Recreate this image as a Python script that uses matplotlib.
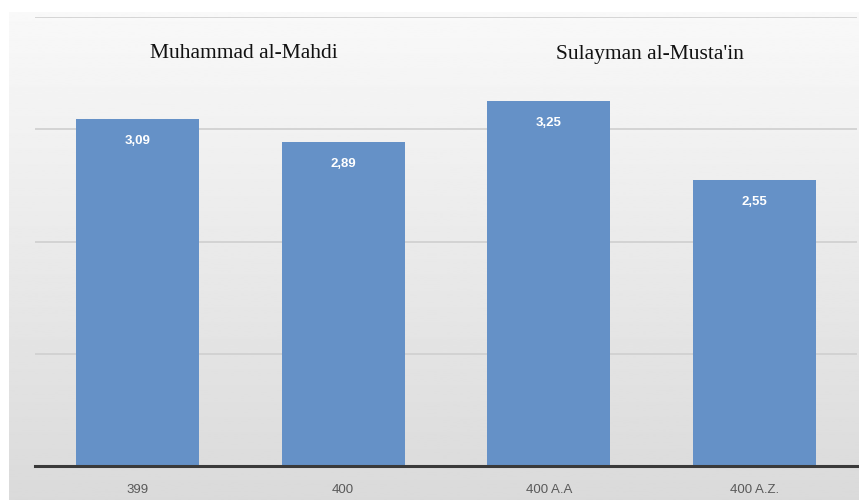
import matplotlib.pyplot as plt
import numpy as np

categories = ['399', '400', '400 A.A', '400 A.Z.']
values = [3.09, 2.89, 3.25, 2.55]
value_labels = ['3,09', '2,89', '3,25', '2,55']
rulers = ['Muhammad al-Mahdi', "Sulayman al-Musta'in"]

narrow = ['Liberation Sans Narrow', 'Liberation Sans', 'DejaVu Sans']

fig = plt.figure(figsize=(8.59, 5.0), dpi=100)

# grey gradient panel behind the chart
bg = fig.add_axes([9 / 859, 0, 850 / 859, 488 / 500])
grad = np.linspace(0.975, 0.855, 256).reshape(-1, 1)
bg.imshow(grad, aspect='auto', cmap='gray', vmin=0, vmax=1, extent=[0, 1, 0, 1])
bg.set_axis_off()

ax = fig.add_axes([35 / 859, 34 / 500, 822 / 859, 449 / 500])
ax.patch.set_alpha(0)
x = np.arange(len(categories))
ax.bar(x, values, width=0.6, color='#6591C7', zorder=3)

for xi, v, lab in zip(x, values, value_labels):
    ax.annotate(lab, (xi, v), xytext=(0, -16), textcoords='offset points',
                ha='center', va='center', color='white', fontsize=9.5,
                fontweight='bold', family=narrow)

ax.set_xlim(-0.5, 3.5)
ax.set_ylim(0, 4)
ax.set_yticks([1, 2, 3, 4])
ax.yaxis.grid(True, color='#cfcfcf', linewidth=1.2, zorder=0)
ax.tick_params(axis='y', left=False, labelleft=False)
ax.tick_params(axis='x', length=0, pad=13, labelsize=9.5, labelcolor='#595959')
ax.set_xticks(x)
ax.set_xticklabels(categories, family=narrow)
for s in ['top', 'right', 'left']:
    ax.spines[s].set_visible(False)
ax.spines['bottom'].set_color('#3a3a3a')
ax.spines['bottom'].set_linewidth(2.2)
ax.spines['bottom'].set_zorder(4)

fig.text(150 / 859, 1 - 54 / 500, rulers[0], family='Liberation Serif',
         fontsize=15.5, va='center', ha='left', color='#111111')
fig.text(556 / 859, 1 - 54 / 500, rulers[1], family='Liberation Serif',
         fontsize=15.5, va='center', ha='left', color='#111111')

plt.savefig('out.png', dpi=100)
